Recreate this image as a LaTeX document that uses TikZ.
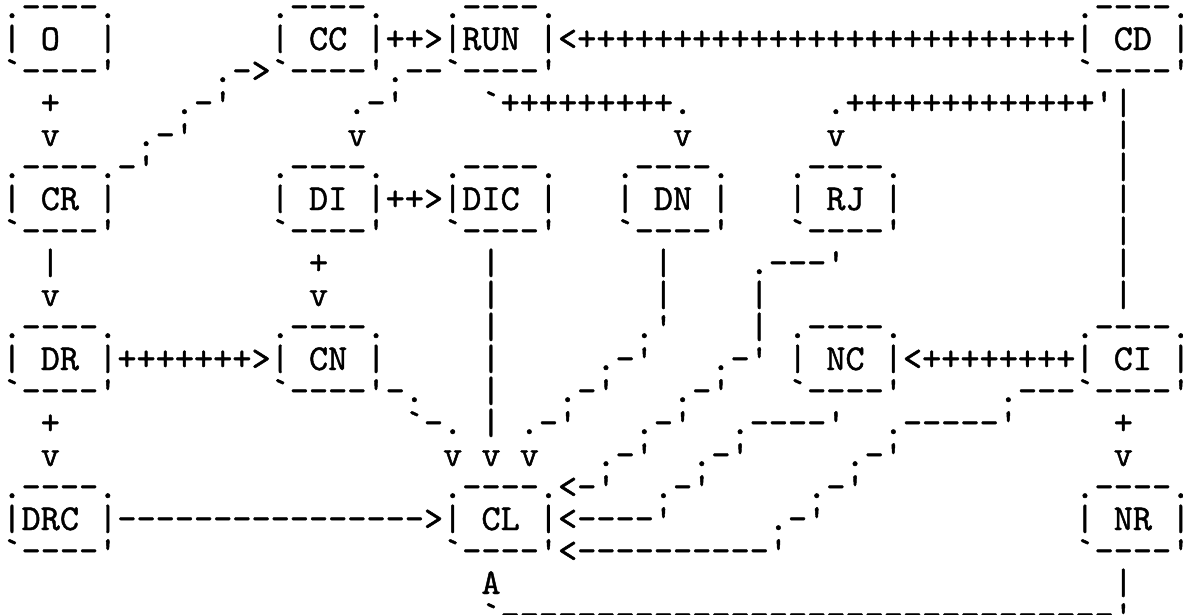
\documentclass[tikz,border=0pt]{standalone}
\usepackage{fontspec}
\setmonofont{lmmono10-regular.otf}[FakeBold=1.2]
\tikzset{
  ch/.style={anchor=base west, inner sep=0pt, outer sep=0pt,
    xshift=2.42pt, yshift=-18pt,
    font=\ttfamily\fontsize{36.5pt}{32pt}\selectfont},
}
\newcommand\seg[4]{\node[ch] (#1) at (#2,#3) {#4};}
\newcommand\abox[4]{%
  \node[ch] (#1-top) at (#2,#3) {.----.};
  \node[ch] (#1) at (#2,{#3+1}) {#4};
  \node[ch] (#1-bot) at (#2,{#3+2}) {`----'};
}
\begin{document}
\begin{tikzpicture}[x=19.16pt,y=-32pt]
\useasboundingbox (0pt,0pt) rectangle (1183pt,-614pt);
% boxes
\abox{O}{0}{0}{|~O~~|}
\abox{CC}{14}{0}{|~CC~|}
\abox{RUN}{23}{0}{|RUN~|}
\abox{CD}{56}{0}{|~CD~|}
\abox{CR}{0}{5}{|~CR~|}
\abox{DI}{14}{5}{|~DI~|}
\abox{DIC}{23}{5}{|DIC~|}
\abox{DN}{32}{5}{|~DN~|}
\abox{RJ}{41}{5}{|~RJ~|}
\abox{DR}{0}{10}{|~DR~|}
\abox{CN}{14}{10}{|~CN~|}
\abox{NC}{41}{10}{|~NC~|}
\abox{CI}{56}{10}{|~CI~|}
\abox{DRC}{0}{15}{|DRC~|}
\abox{CL}{23}{15}{|~CL~|}
\abox{NR}{56}{15}{|~NR~|}
% row 1
\seg{a1}{20}{1}{++>}
\seg{a2}{29}{1}{<++++++++++++++++++++++++++}
% row 2
\seg{b1}{11}{2}{.->}
\seg{b2}{20}{2}{.--}
% row 3
\seg{c1}{2}{3}{+}
\seg{c2}{9}{3}{.-'}
\seg{c3}{18}{3}{.-'}
\seg{c4}{25}{3}{`+++++++++.}
\seg{c5}{43}{3}{.+++++++++++++'|}
% row 4
\seg{d1}{2}{4}{v}
\seg{d2}{7}{4}{.-'}
\seg{d3}{18}{4}{v}
\seg{d4}{35}{4}{v}
\seg{d5}{43}{4}{v}
\seg{d6}{58}{4}{|}
% row 5
\seg{e1}{6}{5}{-'}
\seg{e2}{58}{5}{|}
% row 6
\seg{f1}{20}{6}{++>}
\seg{f2}{58}{6}{|}
% row 7
\seg{g1}{58}{7}{|}
% row 8
\seg{h1}{2}{8}{|}
\seg{h2}{16}{8}{+}
\seg{h3}{25}{8}{|}
\seg{h4}{34}{8}{|}
\seg{h5}{39}{8}{.---'}
\seg{h6}{58}{8}{|}
% row 9
\seg{i1}{2}{9}{v}
\seg{i2}{16}{9}{v}
\seg{i3}{25}{9}{|}
\seg{i4}{34}{9}{|}
\seg{i5}{39}{9}{|}
\seg{i6}{58}{9}{|}
% row 10
\seg{j1}{25}{10}{|}
\seg{j2}{33}{10}{.'}
\seg{j3}{39}{10}{|}
% row 11
\seg{k1}{6}{11}{+++++++>}
\seg{k2}{25}{11}{|}
\seg{k3}{31}{11}{.-'}
\seg{k4}{37}{11}{.-'}
\seg{k5}{47}{11}{<++++++++}
% row 12
\seg{l1}{20}{12}{-.}
\seg{l2}{25}{12}{|}
\seg{l3}{29}{12}{.-'}
\seg{l4}{35}{12}{.-'}
\seg{l5}{52}{12}{.---}
% row 13
\seg{m1}{2}{13}{+}
\seg{m2}{21}{13}{`-.}
\seg{m3}{25}{13}{|}
\seg{m4}{27}{13}{.-'}
\seg{m5}{33}{13}{.-'}
\seg{m6}{38}{13}{.----'}
\seg{m7}{46}{13}{.-----'}
\seg{m8}{58}{13}{+}
% row 14
\seg{n1}{2}{14}{v}
\seg{n2}{23}{14}{v}
\seg{n3}{25}{14}{v}
\seg{n4}{27}{14}{v}
\seg{n5}{31}{14}{.-'}
\seg{n6}{36}{14}{.-'}
\seg{n7}{44}{14}{.-'}
\seg{n8}{58}{14}{v}
% row 15
\seg{o1}{29}{15}{<-'}
\seg{o2}{34}{15}{.-'}
\seg{o3}{42}{15}{.-'}
% row 16
\seg{p1}{6}{16}{---------------->}
\seg{p2}{29}{16}{<----'}
\seg{p3}{40}{16}{.-'}
% row 17
\seg{q1}{29}{17}{<----------'}
% row 18
\seg{r1}{25}{18}{A}
\seg{r2}{58}{18}{|}
% row 19
\seg{s1}{25}{19}{`--------------------------------'}
\end{tikzpicture}
\end{document}
